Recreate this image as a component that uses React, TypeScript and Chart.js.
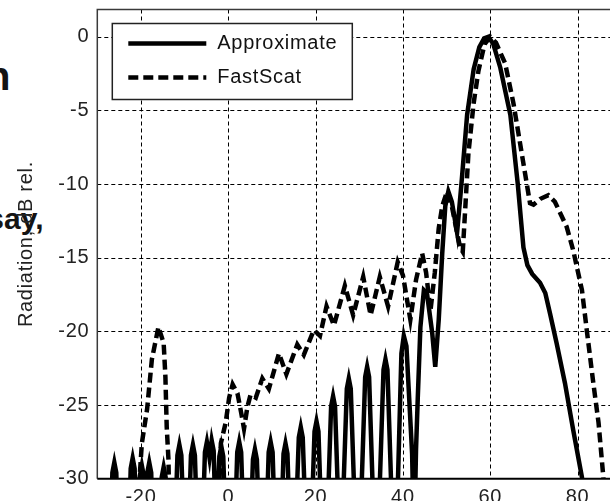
import React, { useEffect, useRef } from "react";
import { Chart, registerables } from "chart.js";

Chart.register(...registerables);

// Axis ranges and ticks
const xRange = [-30, 90];
const yRange = [-30, 1.85];
const xTicks = [-20, 0, 20, 40, 60, 80];
const yTicks = [0, -5, -10, -15, -20, -25, -30];

const seriesNames = ["Approximate", "FastScat"];
const yTitle = "Radiation, dB rel.";

// "Approximate" (solid) — angle in degrees, radiation in dB
const approxDeg = [
  -30,
  -26.95, -26.55, -26.1, -25.65, -25.25,
  -22.8, -22.35, -21.9, -21.45, -21.0,
  -20.6, -20.25, -19.8, -19.35, -19.0,
  -18.9, -18.55, -18.1, -17.65, -17.3,
  -15.65, -15.25, -14.8, -14.35, -13.95,
  -12.25, -11.65, -11.2, -10.75, -10.15,
  -9.15, -8.55, -8.1, -7.65, -7.05,
  -5.95, -5.35, -4.9, -4.5, -4.3, -3.8, -3.35, -2.8,
  -2.65, -2.05, -1.6, -1.15, -0.55,
  1.45, 2.05, 2.5, 2.95, 3.55,
  5.05, 5.65, 6.1, 6.55, 7.15,
  8.65, 9.25, 9.7, 10.15, 10.75,
  12.05, 12.65, 13.1, 13.55, 14.15,
  15.35, 16.15, 16.6, 17.05, 17.85,
  18.95, 19.75, 20.2, 20.65, 21.45,
  22.55, 23.55, 24.0, 24.45, 25.45,
  26.0, 27.15, 27.6, 28.05, 29.2,
  30.15, 31.35, 31.8, 32.25, 33.45,
  34.3, 35.55, 36.0, 36.45, 37.7,
  38.5, 39.65, 40.2, 40.8, 41.3, 42.1, 42.5,
  42.6, 43.0, 43.4, 44.0, 44.8, 45.5, 46.7, 47.4, 48.2, 49.0, 49.7, 50.4, 51.2, 52.4,
  53.4, 54.7, 56.2, 57.5, 58.6, 59.6, 60.7, 62.3, 64.6, 66.3, 67.6,
  68.5, 69.6, 71.4, 72.6, 73.7, 75.2, 77.1, 79.0, 81.0, 81.8, 90,
];
const approxDb = [
  -34,
  -34, -29.6, -28.9, -29.6, -34,
  -34, -29.3, -28.6, -29.3, -34,
  -34, -29.8, -29.1, -29.8, -34,
  -34, -29.6, -28.9, -29.6, -34,
  -34, -29.9, -29.2, -29.9, -34,
  -34, -28.4, -27.7, -28.4, -34,
  -34, -28.4, -27.7, -28.4, -34,
  -34, -28.2, -27.5, -28.2, -28.6, -27.4, -28.1, -34,
  -34, -28.5, -27.8, -28.5, -34,
  -34, -28.2, -27.5, -28.2, -34,
  -34, -28.7, -28.0, -28.7, -34,
  -34, -28.2, -27.5, -28.2, -34,
  -34, -28.3, -27.6, -28.3, -34,
  -34, -27.2, -26.5, -27.2, -34,
  -34, -26.8, -26.1, -26.8, -34,
  -34, -25.1, -24.4, -25.1, -34,
  -34, -23.9, -23.2, -23.9, -34,
  -34, -23.1, -22.4, -23.1, -34,
  -34, -22.6, -21.9, -22.6, -34,
  -34, -21.5, -20.3, -21.0, -23.8, -28.3, -34,
  -34, -28.0, -24.5, -19.7, -17.2, -17.4, -20.1, -22.4, -19.2, -14.7, -11.5, -10.5, -11.2, -13.3,
  -10.0, -5.3, -2.2, -0.7, -0.1, 0, -0.5, -2.1, -5.3, -10.0, -14.3,
  -15.5, -16.1, -16.7, -17.4, -18.8, -20.8, -23.5, -26.7, -29.9, -34, -34,
];

// "FastScat" (dashed)
const fastDeg = [
  -30, -21, -20.3, -19.8, -18.6, -17.5, -16.0, -14.8, -14.4, -14.1, -13.7, -13.4,
  -2.5, -1.7, -0.6, 0.2, 1.0, 2.1, 3.0, 3.6, 4.4, 5.1, 6.3, 7.8, 9.3,
  11.6, 13.3, 15.8, 17.3, 19.6, 21.0, 22.5, 24.2, 26.7, 28.6, 30.9, 32.6, 34.7, 36.6,
  38.8, 40.0, 41.7, 43.0, 44.4, 45.3, 46.3, 47.3, 48.2, 49.0, 50.1, 51.2, 52.2, 53.1, 53.7,
  54.3, 55.0, 56.2, 57.3, 58.7, 60.0, 61.3, 63.4, 65.3, 67.2, 69.1, 69.9, 71.5, 73.3, 74.8,
  77.5, 79.0, 81.0, 82.1, 83.6, 84.8, 85.9, 86.5, 90,
];
const fastDb = [
  -34, -34, -29.9, -27.6, -25.3, -21.9, -19.7, -20.8, -23.1, -26.5, -28.7, -34,
  -34, -27.6, -26.2, -24.5, -23.6, -24.2, -25.6, -26.6, -25.1, -24.3, -24.5, -23.2, -23.9,
  -21.5, -22.9, -20.9, -21.6, -19.9, -20.3, -18.3, -19.6, -16.9, -18.9, -16.3, -18.9, -16.3, -18.3,
  -15.3, -16.2, -19.2, -16.5, -14.7, -16.0, -18.6, -16.0, -13.0, -11.5, -10.5, -11.5, -13.0, -14.3, -14.6,
  -11.5, -7.9, -4.5, -2.3, -0.5, 0, -0.4, -1.8, -4.5, -7.9, -11.3, -11.4, -11.0, -10.75, -11.2,
  -12.9, -14.5, -17.2, -19.9, -23.5, -26.2, -29.9, -34, -34,
];

const FONT = "'Liberation Sans', Arial, Helvetica, sans-serif";

const decorPlugin = {
  id: "decor",
  beforeDraw(chart: any) {
    chart.ctx.letterSpacing = "0.7px";
  },
  beforeDatasetsDraw(chart: any) {
    const { ctx, chartArea: a, scales } = chart;
    const x = scales.x;
    const y = scales.y;
    ctx.save();
    ctx.strokeStyle = "#000";
    ctx.lineWidth = 1;
    ctx.setLineDash([4, 3]);
    for (const v of xTicks) {
      const px = Math.round(x.getPixelForValue(v)) + 0.5;
      ctx.beginPath();
      ctx.moveTo(px, a.top);
      ctx.lineTo(px, a.bottom);
      ctx.stroke();
    }
    for (const v of yTicks) {
      if (v <= yRange[0]) continue;
      const py = Math.round(y.getPixelForValue(v)) + 0.5;
      ctx.beginPath();
      ctx.moveTo(a.left, py);
      ctx.lineTo(a.right, py);
      ctx.stroke();
    }
    ctx.restore();
  },
  afterDatasetsDraw(chart: any) {
    const { ctx, chartArea: a } = chart;
    ctx.save();
    ctx.setLineDash([]);
    // axes box
    ctx.strokeStyle = "#3a3a3a";
    ctx.lineWidth = 1.5;
    ctx.beginPath();
    ctx.moveTo(a.left, a.bottom);
    ctx.lineTo(a.left, a.top);
    ctx.lineTo(a.right, a.top);
    ctx.stroke();
    ctx.strokeStyle = "#000";
    ctx.lineWidth = 2;
    ctx.beginPath();
    ctx.moveTo(a.left, a.bottom);
    ctx.lineTo(a.right, a.bottom);
    ctx.stroke();

    // legend
    const bx = a.left + 15;
    const by = a.top + 14;
    const bw = 240;
    const bh = 76;
    ctx.fillStyle = "#fff";
    ctx.fillRect(bx, by, bw, bh);
    ctx.strokeStyle = "#222";
    ctx.lineWidth = 1.5;
    ctx.strokeRect(bx, by, bw, bh);
    const rows = [by + 20, by + 54];
    chart.data.datasets.forEach((ds: any, i: number) => {
      ctx.strokeStyle = ds.borderColor;
      ctx.lineWidth = ds.borderWidth;
      ctx.setLineDash(ds.borderDash || []);
      ctx.beginPath();
      ctx.moveTo(bx + 16, rows[i]);
      ctx.lineTo(bx + 94, rows[i]);
      ctx.stroke();
      ctx.setLineDash([]);
      ctx.fillStyle = "#111";
      ctx.font = `20px ${FONT}`;
      ctx.textAlign = "left";
      ctx.textBaseline = "middle";
      ctx.fillText(ds.label, bx + 105, rows[i]);
    });
    ctx.restore();
  },
};

export default function App() {
  const ref = useRef<HTMLCanvasElement | null>(null);

  useEffect(() => {
    if (!ref.current) return;
    const chart = new Chart(ref.current, {
      type: "line",
      data: {
        datasets: [
          {
            label: seriesNames[0],
            data: approxDeg.map((d, i) => ({ x: d, y: approxDb[i] })),
            borderColor: "#000",
            borderWidth: 4.5,
            pointRadius: 0,
            tension: 0,
            fill: false,
            clip: 0,
          },
          {
            label: seriesNames[1],
            data: fastDeg.map((d, i) => ({ x: d, y: fastDb[i] })),
            borderColor: "#000",
            borderWidth: 4.5,
            borderDash: [10, 5],
            pointRadius: 0,
            tension: 0,
            fill: false,
            clip: 0,
          },
        ],
      } as any,
      options: {
        animation: false,
        responsive: false,
        layout: { padding: { top: 9.5, right: 18.75, left: 0, bottom: 0 } },
        plugins: { legend: { display: false }, tooltip: { enabled: false } },
        scales: {
          x: {
            type: "linear",
            min: xRange[0],
            max: xRange[1],
            grid: { display: false, drawTicks: false },
            border: { display: false },
            ticks: {
              color: "#222",
              font: { family: FONT, size: 20 },
              padding: 7,
              maxRotation: 0,
              autoSkip: false,
            },
            afterBuildTicks: (s: any) => {
              s.ticks = xTicks.map((v) => ({ value: v }));
            },
            afterFit: (s: any) => {
              s.height = 22.3;
              s.paddingLeft = 0;
              s.paddingRight = 0;
            },
          },
          y: {
            type: "linear",
            min: yRange[0],
            max: yRange[1],
            grid: { display: false, drawTicks: false },
            border: { display: false },
            ticks: {
              color: "#222",
              font: { family: FONT, size: 20 },
              padding: 8,
              autoSkip: false,
            },
            afterBuildTicks: (s: any) => {
              s.ticks = yTicks.map((v) => ({ value: v }));
            },
            afterFit: (s: any) => {
              s.width = 97.3;
              s.paddingTop = 0;
              s.paddingBottom = 0;
            },
            title: {
              display: true,
              text: yTitle,
              color: "#222",
              font: { family: FONT, size: 20 },
              padding: { top: 14.5, bottom: 0 },
            },
          },
        },
      } as any,
      plugins: [decorPlugin],
    });
    return () => chart.destroy();
  }, []);

  const bgText: React.CSSProperties = {
    position: "absolute",
    fontFamily: FONT,
    fontWeight: "bold",
    color: "#141414",
    lineHeight: 1,
    whiteSpace: "nowrap",
  };

  return (
    <div
      style={{
        position: "fixed",
        left: 0,
        top: 0,
        width: 610,
        height: 501,
        overflow: "hidden",
        background: "#fff",
      }}
    >
      <div style={{ ...bgText, left: -14, top: 56, fontSize: 40 }}>n</div>
      <div style={{ ...bgText, left: -12.7, top: 204, fontSize: 30 }}>say,</div>
      <canvas
        ref={ref}
        width={640}
        height={501}
        style={{ position: "absolute", left: 0, top: 0, width: 640, height: 501 }}
      />
    </div>
  );
}
